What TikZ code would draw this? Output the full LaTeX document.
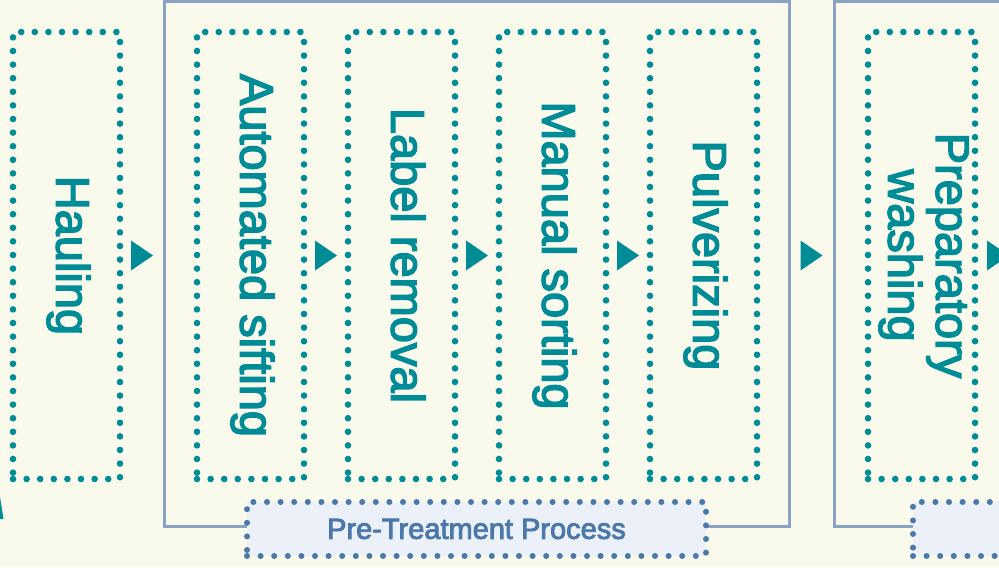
\documentclass[tikz,border=0pt]{standalone}
\usepackage{fontspec}
\setmainfont{Liberation Sans}
\newfontfamily\huruf{Liberation Sans}[FakeBold=3]
\usepackage{graphicx}
\usetikzlibrary{positioning}

\definecolor{tosca}{HTML}{008C96}
\definecolor{krem}{HTML}{F9F9EC}
\definecolor{abubiru}{HTML}{8AA2C4}
\definecolor{birulabel}{HTML}{4A78AA}
\definecolor{isilabel}{HTML}{ECF0F8}

\newcommand{\tegak}[1]{\rotatebox{-90}{\begin{tabular}{@{}c@{}}#1\end{tabular}}}

\begin{document}
\begin{tikzpicture}[
      tahap/.style={draw=tosca, line width=3.3pt, dash pattern=on 0pt off 6.8pt,
      line cap=round, minimum width=53.5pt, minimum height=223.5pt,
      inner sep=0pt, outer sep=0pt, text=tosca,
      font=\huruf\fontsize{23.5}{23}\selectfont},
      bingkai/.style={draw=abubiru, line width=1.5pt, minimum width=312.5pt,
      minimum height=262.25pt, outer sep=0pt},
      judul/.style={draw=birulabel, fill=isilabel, line width=3pt,
      dash pattern=on 0pt off 6.8pt, line cap=round, minimum height=27pt,
      outer sep=0pt, text=birulabel, font=\huruf\fontsize{14.5}{16}\selectfont},
      panah/.style={fill=tosca}
    ]
    \useasboundingbox (0,0) rectangle (499.5pt,-283.5pt);
    \clip (0,0) rectangle (499.5pt,-283.5pt);
    \fill[krem] (0,0) rectangle (499.5pt,-283.5pt);

    \node[bingkai, anchor=north west] (pretreat) at (82pt,-0.75pt) {};
    \node[bingkai, right=22.5pt of pretreat] (lanjut) {};

    \node[tahap] (hauling) at (33.25pt,-127.75pt) {\tegak{Hauling}};
    \node[tahap, right=38.5pt of hauling] (sifting) {\tegak{Automated sifting}};
    \node[tahap, right=22pt of sifting] (removal) {\tegak{Label removal}};
    \node[tahap, right=22pt of removal] (sorting) {\tegak{Manual sorting}};
    \node[tahap, right=22pt of sorting] (pulverizing) {\tegak{Pulverizing}};
    \node[tahap, right=55.5pt of pulverizing] (washing)
    {\tegak{Preparatory\\washing}};

    \node[judul, minimum width=229.5pt] (jpretreat)
    at ([yshift=-1.5pt]pretreat.south) {Pre-Treatment Process};
    \node[judul, minimum width=233.5pt] (jlanjut)
    at ([yshift=-1.5pt]lanjut.south) {};

    % titik tengah antar tahap, lalu segitiga panah
    \coordinate (terus) at ([xshift=23pt]washing.east);
    \path (hauling.east) -- coordinate[midway] (p1) (hauling.east -| pretreat.west);
    \path (sifting.east) -- coordinate[midway] (p2) (removal.west);
    \path (removal.east) -- coordinate[midway] (p3) (sorting.west);
    \path (sorting.east) -- coordinate[midway] (p4) (pulverizing.west);
    \path (pulverizing.east -| pretreat.east) -- coordinate[midway] (p5)
    (pulverizing.east -| lanjut.west);
    \path (washing.east) -- coordinate[midway] (p6) (terus);
    \foreach \p in {p1,p2,p3,p4,p5,p6}
      \fill[panah] ([shift={(-5.5pt,7.5pt)}]\p) -- ([xshift=5.5pt]\p)
      -- ([shift={(-5.5pt,-7.5pt)}]\p) -- cycle;

    % potongan panah di tepi kiri bawah
    \fill[tosca] (0pt,-248.5pt) -- (1.75pt,-259.5pt) -- (0pt,-259.5pt) -- cycle;
  \end{tikzpicture}
\end{document}
